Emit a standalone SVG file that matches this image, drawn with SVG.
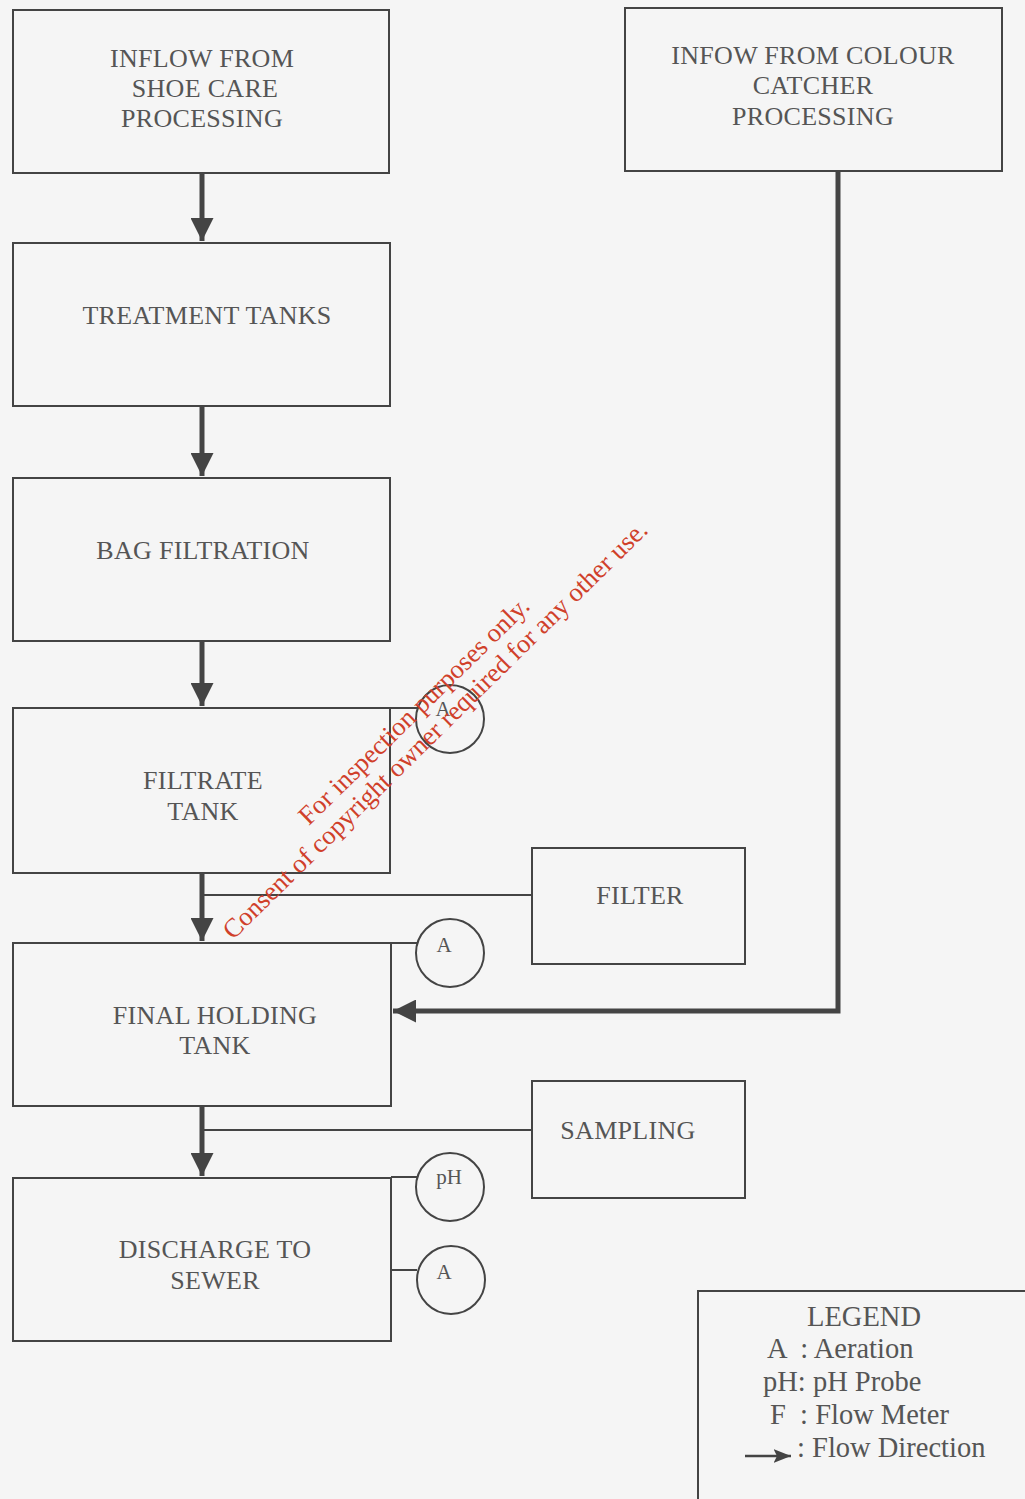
<svg xmlns="http://www.w3.org/2000/svg" width="1025" height="1499" viewBox="0 0 1025 1499">
<defs>
<style>
.box{fill:none;stroke:#444;stroke-width:2}
.t{font-family:"Liberation Serif","DejaVu Serif",serif;font-size:26px;letter-spacing:0.3px;fill:#555;text-anchor:middle}
.c{font-family:"Liberation Serif","DejaVu Serif",serif;font-size:21px;fill:#555;text-anchor:middle}
.lg{font-family:"Liberation Serif","DejaVu Serif",serif;font-size:28.5px;fill:#555;white-space:pre}
.flow{fill:none;stroke:#444;stroke-width:5}
.thin{fill:none;stroke:#444;stroke-width:2}
.circ{fill:none;stroke:#444;stroke-width:2}
.wm{font-family:"Liberation Serif","DejaVu Serif",serif;font-size:26.5px;fill:#d0402a;text-anchor:middle}
</style>
<marker id="ah" viewBox="0 0 10 10" refX="10" refY="5" markerWidth="4.6" markerHeight="4.6" markerUnits="strokeWidth" orient="auto">
<path d="M0,0 L10,5 L0,10 z" fill="#444"/>
</marker>
<marker id="ahs" viewBox="0 0 10 10" refX="10" refY="5" markerWidth="7" markerHeight="7" markerUnits="strokeWidth" orient="auto">
<path d="M0,1 L10,5 L0,9 L2,5 z" fill="#444"/>
</marker>
</defs>
<rect width="1025" height="1499" fill="#f5f5f5"/>

<g id="connectors">
<line class="flow" x1="202" y1="173" x2="202" y2="241" marker-end="url(#ah)"/>
<line class="flow" x1="202" y1="406" x2="202" y2="476" marker-end="url(#ah)"/>
<line class="flow" x1="202" y1="641" x2="202" y2="706" marker-end="url(#ah)"/>
<line class="flow" x1="202" y1="873" x2="202" y2="941" marker-end="url(#ah)"/>
<line class="flow" x1="202" y1="1106" x2="202" y2="1176" marker-end="url(#ah)"/>
<path class="flow" d="M838,171 V1011 H393" marker-end="url(#ah)"/>
<line class="thin" x1="202" y1="895" x2="532" y2="895"/>
<line class="thin" x1="202" y1="1130" x2="532" y2="1130"/>
<line class="thin" x1="390" y1="708" x2="417" y2="708"/>
<line class="thin" x1="391" y1="943" x2="418" y2="943"/>
<line class="thin" x1="391" y1="1177" x2="417" y2="1177"/>
<line class="thin" x1="391" y1="1270" x2="417" y2="1270"/>
</g>

<g id="inflow-shoe">
<rect class="box" x="13" y="10" width="376" height="163"/>
<text class="t" x="202" y="67">INFLOW FROM</text>
<text class="t" x="205" y="97">SHOE CARE</text>
<text class="t" x="202" y="127">PROCESSING</text>
</g>
<g id="inflow-colour">
<rect class="box" x="625" y="8" width="377" height="163"/>
<text class="t" x="813" y="64">INFOW FROM COLOUR</text>
<text class="t" x="813" y="94">CATCHER</text>
<text class="t" x="813" y="125">PROCESSING</text>
</g>
<g id="treatment">
<rect class="box" x="13" y="243" width="377" height="163"/>
<text class="t" x="207" y="324">TREATMENT TANKS</text>
</g>
<g id="bag">
<rect class="box" x="13" y="478" width="377" height="163"/>
<text class="t" x="203" y="559">BAG FILTRATION</text>
</g>
<g id="filtrate">
<rect class="box" x="13" y="708" width="377" height="165"/>
<text class="t" x="203" y="789">FILTRATE</text>
<text class="t" x="203" y="820">TANK</text>
</g>
<g id="filter">
<rect class="box" x="532" y="848" width="213" height="116"/>
<text class="t" x="640" y="904">FILTER</text>
</g>
<g id="final">
<rect class="box" x="13" y="943" width="378" height="163"/>
<text class="t" x="215" y="1024">FINAL HOLDING</text>
<text class="t" x="215" y="1054">TANK</text>
</g>
<g id="sampling">
<rect class="box" x="532" y="1081" width="213" height="117"/>
<text class="t" x="628" y="1139">SAMPLING</text>
</g>
<g id="discharge">
<rect class="box" x="13" y="1178" width="378" height="163"/>
<text class="t" x="215" y="1258">DISCHARGE TO</text>
<text class="t" x="215" y="1289">SEWER</text>
</g>

<g id="aer1"><circle class="circ" cx="450" cy="719" r="34"/><text class="c" x="443" y="716">A</text></g>
<g id="aer2"><circle class="circ" cx="450" cy="953" r="34"/><text class="c" x="444" y="952">A</text></g>
<g id="ph"><circle class="circ" cx="450" cy="1187" r="34"/><text class="c" x="449" y="1184">pH</text></g>
<g id="aer3"><circle class="circ" cx="451" cy="1280" r="34"/><text class="c" x="444" y="1279">A</text></g>

<g id="legend">
<path class="thin" d="M698,1499 V1291 H1025"/>
<text class="lg" x="864" y="1326" text-anchor="middle">LEGEND</text>
<text class="lg" x="767" y="1358">A  : Aeration</text>
<text class="lg" x="763" y="1391">pH: pH Probe</text>
<text class="lg" x="770" y="1424">F  : Flow Meter</text>
<line x1="745" y1="1456" x2="791" y2="1456" stroke="#444" stroke-width="2.5" marker-end="url(#ahs)"/>
<text class="lg" x="797" y="1457">: Flow Direction</text>
</g>

<g id="watermark">
<text class="wm" transform="translate(420,717) rotate(-44.5)">For inspection purposes only.</text>
<text class="wm" transform="translate(441,736) rotate(-44.5)">Consent of copyright owner required for any other use.</text>
</g>
</svg>
